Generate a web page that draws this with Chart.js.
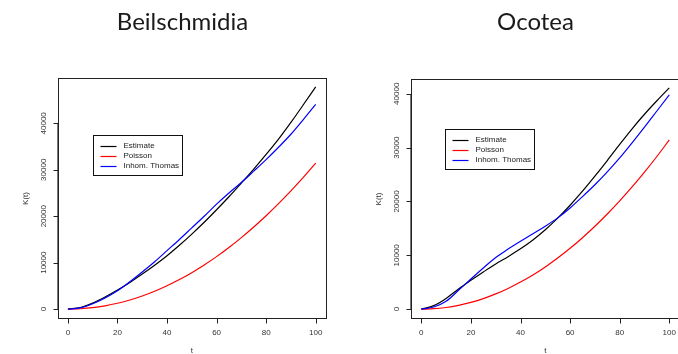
<!DOCTYPE html>
<html><head><meta charset="utf-8">
<script src="https://cdn.jsdelivr.net/npm/chart.js@4/dist/chart.umd.min.js"></script>
<style>
html,body{margin:0;padding:0;background:#fff;overflow:hidden;width:678px;height:354px;}
#wrap{position:relative;width:678px;height:354px;overflow:hidden;}
canvas{position:absolute;top:0;}
</style></head>
<body><div id="wrap">
<canvas id="c1" width="339" height="354" style="left:0"></canvas>
<canvas id="c2" width="345" height="354" style="left:339px"></canvas>
</div>
<script>
const tValues = [0,5,10,15,20,25,30,35,40,45,50,55,60,65,70,75,80,85,90,95,100];
const seriesLabels = ["Estimate","Poisson","Inhom. Thomas"];
const seriesColors = ["#000000","#ff0000","#0000ff"];
const xTicks = [0,20,40,60,80,100];
const yTicks = [0,10000,20000,30000,40000];

// Beilschmidia
const beilEstimate = [0,350,1300,2600,4100,5750,7550,9450,11500,13750,16150,18700,21400,24200,27150,30150,33300,36600,40200,44000,47850];
const beilPoisson  = [0,80,310,710,1260,1960,2830,3850,5030,6360,7850,9500,11300,13270,15390,17670,20110,22700,25450,28350,31420];
const beilThomas   = [0,250,1150,2400,3950,5900,8000,10200,12600,15000,17500,20000,22600,25000,27250,29700,32200,34850,37650,40800,44100];

// Ocotea
const ocoEstimate = [0,650,2000,3750,5350,6900,8400,9750,11200,12850,14750,16900,19300,21900,24700,27600,30600,33500,36200,38700,41100];
const ocoPoisson  = [0,80,310,710,1260,1960,2830,3850,5030,6360,7850,9500,11300,13270,15390,17670,20110,22700,25450,28350,31420];
const ocoThomas   = [0,400,1450,3500,5600,7650,9600,11150,12600,14000,15400,16950,18800,20900,23100,25500,28100,30900,33800,36800,39800];

const FONT = '"Liberation Sans", Arial, sans-serif';

function pts(arr){ return tValues.map((t,i)=>({x:t,y:arr[i]})); }

function makeChart(id, title, series, cfg){
  const datasets = series.map((s,i)=>({
    label: seriesLabels[i],
    data: pts(s),
    borderColor: seriesColors[i],
    borderWidth: 1.2,
    pointRadius: 0,
    fill: false,
    tension: 0,
    cubicInterpolationMode: 'monotone',
    order: 3 - i
  }));
  const rPlot = {
    id: 'rplot',
    afterDraw(chart){
      const ctx = chart.ctx, a = chart.chartArea;
      const xs = chart.scales.x, ys = chart.scales.y;
      ctx.save();
      ctx.strokeStyle = '#222';
      ctx.lineWidth = 1;
      // box
      const L = Math.round(a.left)+0.5, R = Math.round(a.right)+0.5, T = Math.round(a.top)+0.5, B = Math.round(a.bottom)+0.5;
      ctx.strokeRect(L, T, R-L, B-T);
      ctx.fillStyle = '#333';
      ctx.font = '8px ' + FONT;
      // x axis
      ctx.beginPath();
      ctx.moveTo(Math.round(xs.getPixelForValue(xTicks[0]))+0.5, B);
      ctx.lineTo(Math.round(xs.getPixelForValue(xTicks[xTicks.length-1]))+0.5, B);
      xTicks.forEach(v=>{
        const px = Math.round(xs.getPixelForValue(v))+0.5;
        ctx.moveTo(px, B); ctx.lineTo(px, B+5);
      });
      ctx.stroke();
      ctx.textAlign = 'center'; ctx.textBaseline = 'middle';
      xTicks.forEach(v=>{ ctx.fillText(String(v), xs.getPixelForValue(v), B+14); });
      // y axis
      ctx.beginPath();
      ctx.moveTo(L-0.6, Math.round(ys.getPixelForValue(yTicks[0]))+0.5);
      ctx.lineTo(L-0.6, Math.round(ys.getPixelForValue(yTicks[yTicks.length-1]))+0.5);
      yTicks.forEach(v=>{
        const py = Math.round(ys.getPixelForValue(v))+0.5;
        ctx.moveTo(L, py); ctx.lineTo(L-5, py);
      });
      ctx.stroke();
      yTicks.forEach(v=>{
        ctx.save();
        ctx.translate(L-15, ys.getPixelForValue(v));
        ctx.rotate(-Math.PI/2);
        ctx.fillText(String(v), 0, 0);
        ctx.restore();
      });
      // axis titles
      ctx.fillText('t', (xs.getPixelForValue(-4)+xs.getPixelForValue(104))/2, 351);
      ctx.save();
      ctx.translate(L-33, (T+B)/2);
      ctx.rotate(-Math.PI/2);
      ctx.fillText('K(t)', 0, 0);
      ctx.restore();
      // legend
      const lx = Math.round(xs.getPixelForValue(cfg.legX))+0.5, ly = Math.round(ys.getPixelForValue(cfg.legY))+0.5;
      ctx.strokeStyle = '#111';
      ctx.strokeRect(lx, ly, 89, 40);
      ctx.textAlign = 'left';
      chart.data.datasets.forEach((d,i)=>{
        const yy = ly + 10 + i*10.2;
        ctx.strokeStyle = d.borderColor;
        ctx.lineWidth = 1.2;
        ctx.beginPath(); ctx.moveTo(lx+7, Math.round(yy)+0.5); ctx.lineTo(lx+23, Math.round(yy)+0.5); ctx.stroke();
        ctx.fillStyle = '#222';
        ctx.fillText(d.label, lx+30, yy);
      });
      // title
      ctx.fillStyle = '#1a1a1a';
      ctx.font = '24px Lato, "Open Sans", sans-serif';
      ctx.textAlign = 'center'; ctx.textBaseline = 'alphabetic';
      ctx.fillText(title, cfg.titleX, 30);
      ctx.restore();
    }
  };
  return new Chart(document.getElementById(id), {
    type: 'line',
    data: { datasets },
    options: {
      responsive: false, animation: false, devicePixelRatio: 1,
      layout: { padding: cfg.pad },
      plugins: { legend: {display:false}, tooltip: {enabled:false}, title: {display:false} },
      scales: {
        x: { type:'linear', display:false, min:-4, max:104 },
        y: { type:'linear', display:false, min:cfg.ymin, max:cfg.ymax }
      }
    },
    plugins: [rPlot]
  });
}

makeChart('c1', 'Beilschmidia', [beilEstimate, beilPoisson, beilThomas], {
  pad: {left:58, right:13.4, top:78, bottom:36},
  ymin: -1914, ymax: 49764, legX: 10.2, legY: 37400, titleX: 182.5
});
makeChart('c2', 'Ocotea', [ocoEstimate, ocoPoisson, ocoThomas], {
  pad: {left:72.4, right:4.8, top:79, bottom:36},
  ymin: -1644, ymax: 42744, legX: 9.7, legY: 33540, titleX: 535.5 - 339
});
</script>
</body></html>
